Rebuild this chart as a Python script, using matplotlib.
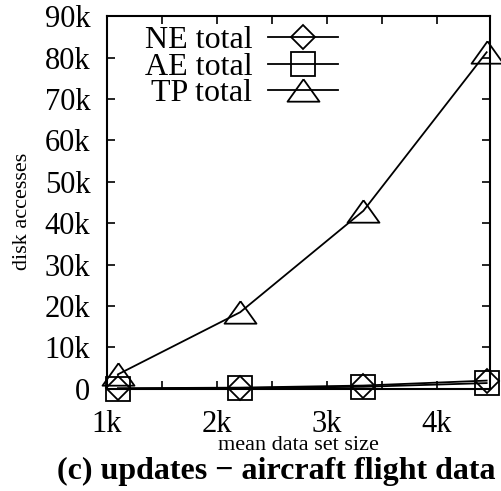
import numpy as np
import matplotlib.pyplot as plt
from matplotlib.ticker import FuncFormatter, MultipleLocator

plt.rcParams['font.family'] = ['Liberation Serif', 'DejaVu Serif']

# mean data set size and disk accesses per method
sizes = [1100, 2210, 3330, 4450]
ne_total = [150, 300, 800, 2000]
ae_total = [50, 200, 500, 1400]
tp_total = [3500, 18500, 43000, 81300]

# wide gnuplot-style triangle
tri = [(0, 0.7), (-1, -0.7), (1, -0.7), (0, 0.7)]

fig = plt.figure(figsize=(5.02, 4.91), dpi=100)
ax = fig.add_axes([0.213, 0.208, 0.763, 0.759])

style = dict(color='black', lw=1.3, mfc='none', mec='black', mew=1.3,
             clip_on=False)
ax.plot(sizes, ne_total, marker='D', ms=12, label='NE total', **style)
ax.plot(sizes, ae_total, marker='s', ms=17, label='AE total', **style)
ax.plot(sizes, tp_total, marker=tri, ms=23, label='TP total', **style)

ax.set_xlim(1000, 4480)
ax.set_ylim(0, 90000)
ax.xaxis.set_major_locator(MultipleLocator(500))
ax.yaxis.set_major_locator(MultipleLocator(10000))


def kfmt(v, pos):
    if v == 0:
        return '0'
    if v % 1000:
        return ''
    return '%dk' % (v // 1000)


ax.xaxis.set_major_formatter(FuncFormatter(kfmt))
ax.yaxis.set_major_formatter(FuncFormatter(kfmt))
ax.tick_params(direction='in', length=6, width=1.2, top=True, right=True,
               labelsize=22)
ax.tick_params(axis='y', pad=12)
ax.tick_params(axis='x', pad=15)
for s in ax.spines.values():
    s.set_linewidth(1.5)

ax.set_xlabel('mean data set size', fontsize=16, labelpad=-2)
fig.text(0.044, 0.57, 'disk accesses', rotation=90, fontsize=16,
         ha='center', va='center')
fig.text(0.55, 0.04, '(c) updates \u2212 aircraft flight data', fontsize=23,
         fontweight='bold', ha='center', va='center')

leg = ax.legend(loc='upper left', bbox_to_anchor=(0.04, 1.035), frameon=False,
                fontsize=23, markerfirst=False, handlelength=2.2,
                handletextpad=0.5, labelspacing=-0.08, borderpad=0.2)

fig.savefig('out.png', dpi=100)
